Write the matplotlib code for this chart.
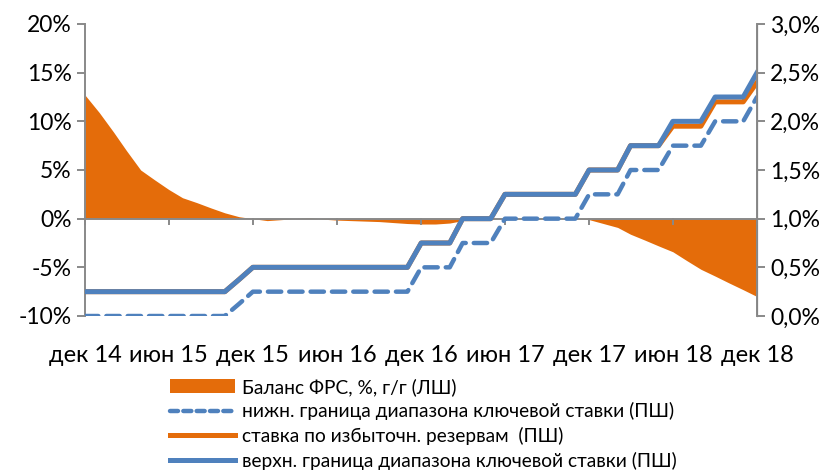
import pandas as pd
import numpy as np
import matplotlib
matplotlib.use("Agg")
import matplotlib.pyplot as plt
from matplotlib.patches import Patch
from matplotlib.lines import Line2D

# monthly points, Dec 2014 .. Dec 2018
months = pd.date_range("2014-12-01", "2018-12-01", freq="MS")

# Баланс ФРС, % г/г (left axis)
fed_balance = [12.7, 10.9, 8.9, 7.0, 5.0, 4.0, 3.0, 2.15, 1.65, 1.1, 0.6, 0.2,
               0.0, -0.2, -0.1, 0.0, 0.1, -0.05, -0.15, -0.2, -0.25, -0.3, -0.4, -0.5,
               -0.55, -0.55, -0.45, -0.2, -0.05, 0.0, 0.0, 0.0, 0.0, 0.0, 0.0, 0.0,
               -0.1, -0.5, -0.9, -1.6, -2.2, -2.8, -3.4, -4.3, -5.2, -5.9, -6.6, -7.3,
               -8.0]

# upper bound of the fed funds target range, % (right axis)
upper = [0.25] * 11 + [0.375] + [0.5] * 12 + [0.75] * 3 + [1.0] * 3 + [1.25] * 6 \
    + [1.5] * 3 + [1.75] * 3 + [2.0] * 3 + [2.25] * 3 + [2.5]
lower = [u - 0.25 for u in upper]
# interest on excess reserves
ioer = upper[:42] + [1.95] * 3 + [2.2] * 3 + [2.4]

tick_dates = pd.date_range("2014-12-01", periods=9, freq="6MS")
tick_labels = ["дек 14", "июн 15", "дек 15", "июн 16", "дек 16",
               "июн 17", "дек 17", "июн 18", "дек 18"]

left_ticks = [-10, -5, 0, 5, 10, 15, 20]
right_ticks = [0.0, 0.5, 1.0, 1.5, 2.0, 2.5, 3.0]

orange = "#E46C0A"
blue = "#4F81BD"
grey = "#898989"

plt.rcParams["font.family"] = ["Lato", "DejaVu Sans"]

fig = plt.figure(figsize=(8.4, 4.72), dpi=100)
ax = fig.add_axes([85 / 840, 1 - 316 / 472, 672 / 840, 292 / 472])
ax2 = ax.twinx()

ax.fill_between(months, fed_balance, 0, color=orange, lw=0, zorder=2)
ax.axhline(0, color=grey, lw=1.4, zorder=3)

ax2.plot(months, lower, color=blue, lw=3.2, ls=(0, (3, 1.8)), dash_capstyle="round")
ax2.plot(months, ioer, color=orange, lw=3.6)
ax2.plot(months, upper, color=blue, lw=3.6)

ax.set_xlim(months[0], months[-1])
ax.set_ylim(-10, 20)
ax2.set_ylim(0, 3)

ax.set_yticks(left_ticks)
ax.set_yticklabels([f"{v}%" for v in left_ticks])
ax2.set_yticks(right_ticks)
ax2.set_yticklabels([f"{v:.1f}%".replace(".", ",") for v in right_ticks])

ax.set_xticks(tick_dates)
ax.set_xticklabels(tick_labels)

for a in (ax, ax2):
    for s in ("top", "bottom"):
        a.spines[s].set_visible(False)
    a.tick_params(axis="y", colors=grey, labelcolor="black", labelsize=16.5,
                  length=6, width=1.4)
ax.spines["left"].set_color(grey)
ax.spines["left"].set_linewidth(1.4)
ax2.spines["right"].set_color(grey)
ax2.spines["right"].set_linewidth(1.4)
ax2.spines["left"].set_visible(False)

# month ticks hang from the zero line, labels below the plot
ax.tick_params(axis="x", colors=grey, labelcolor="black", labelsize=17,
               length=0, pad=21)
for d in tick_dates:
    ax.plot([d, d], [0, -0.55], color=grey, lw=1.4, zorder=3, clip_on=False)

handles = [
    Patch(facecolor=orange, edgecolor="none"),
    Line2D([], [], color=blue, lw=3.2, ls=(0, (1.8, 1.2)), dash_capstyle="round"),
    Line2D([], [], color=orange, lw=3.6),
    Line2D([], [], color=blue, lw=3.6),
]
labels = [
    "Баланс ФРС, %, г/г (ЛШ)",
    "нижн. граница диапазона ключевой ставки (ПШ)",
    "ставка по избыточн. резервам  (ПШ)",
    "верхн. граница диапазона ключевой ставки (ПШ)",
]
fig.legend(handles, labels, loc="upper left", bbox_to_anchor=(170 / 840, 1 - 378 / 472),
           frameon=False, fontsize=13.8, handlelength=3.4, handletextpad=0.35,
           labelspacing=0.34, borderaxespad=0, borderpad=0)

fig.savefig("out.png", dpi=100)
